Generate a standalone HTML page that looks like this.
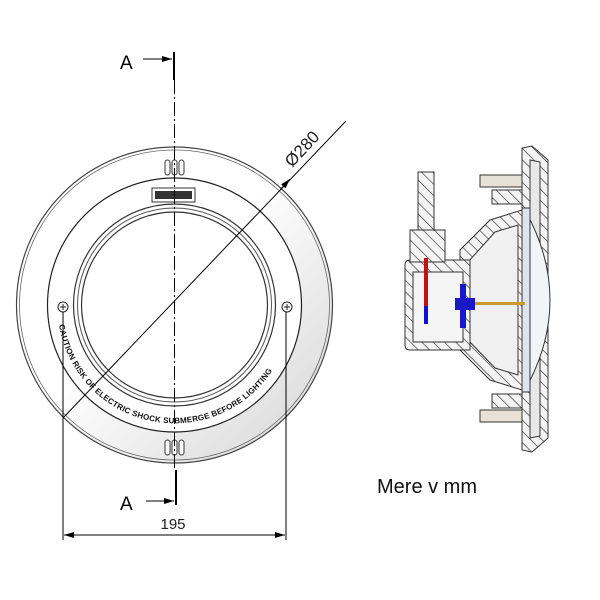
<!DOCTYPE html>
<html><head><meta charset="utf-8"><style>
html,body{margin:0;padding:0;background:#fff;width:600px;height:600px;overflow:hidden}
svg{display:block}
text{font-family:"Liberation Sans",sans-serif}
</style></head><body>
<svg width="600" height="600" viewBox="0 0 600 600" xmlns="http://www.w3.org/2000/svg">
<defs>
<linearGradient id="g" x1="0" y1="0" x2="1" y2="1">
<stop offset="0.45" stop-color="#fff"/><stop offset="1" stop-color="#d4d4d4"/>
</linearGradient>
<pattern id="h" width="8" height="8" patternUnits="userSpaceOnUse" patternTransform="rotate(-45)">
<rect width="8" height="8" fill="#f4f4f4"/><line x1="0" y1="0" x2="0" y2="8" stroke="#333" stroke-width="1.3"/>
</pattern>
<marker id="ar" markerWidth="10" markerHeight="6" refX="10" refY="3" orient="auto" markerUnits="userSpaceOnUse"><path d="M0,0L10,3L0,6z" fill="#000"/></marker>
</defs>
<circle cx="174.5" cy="305" r="158" fill="url(#g)" stroke="#444" stroke-width="1.2"/>
<circle cx="174.5" cy="305" r="155" fill="none" stroke="#666" stroke-width="0.8"/>
<circle cx="174.5" cy="305" r="127" fill="#fff" stroke="#222" stroke-width="1.2"/>
<circle cx="174.5" cy="305" r="101" fill="#fff" stroke="#333" stroke-width="1.2"/>
<circle cx="174.5" cy="305" r="97" fill="none" stroke="#555" stroke-width="1"/>
<circle cx="174.5" cy="305" r="93" fill="#fff" stroke="#333" stroke-width="1.2"/>
<g fill="#fff" stroke="#333" stroke-width="1">
<rect x="165" y="160" width="5" height="15" rx="2.5"/><rect x="172" y="160" width="5" height="15" rx="2.5"/><rect x="179" y="160" width="5" height="15" rx="2.5"/>
<rect x="165" y="440" width="5" height="15" rx="2.5"/><rect x="172" y="440" width="5" height="15" rx="2.5"/><rect x="179" y="440" width="5" height="15" rx="2.5"/>
</g>
<rect x="152" y="188" width="43" height="14" fill="#fff" stroke="#333"/>
<rect x="155" y="191" width="37" height="8" fill="#333"/>
<g stroke="#222" fill="#fff" stroke-width="1">
<circle cx="63" cy="307" r="5"/><path d="M60,307h6M63,304v6"/>
<circle cx="287" cy="307" r="5"/><path d="M284,307h6M287,304v6"/>
</g>
<path id="arc" d="M59,325 A117,117 0 0 0 290,325" fill="none"/>
<text font-size="8" font-weight="bold" letter-spacing="0.2" fill="#111"><textPath href="#arc" startOffset="0">CAUTION RISK OF ELECTRIC SHOCK SUBMERGE BEFORE LIGHTING</textPath></text>
<line x1="174" y1="52" x2="174" y2="80" stroke="#000" stroke-width="2"/>
<line x1="174.5" y1="80" x2="174.5" y2="470" stroke="#000" stroke-width="1" stroke-dasharray="14,3,2,3"/>
<line x1="176" y1="470" x2="176" y2="505" stroke="#000" stroke-width="2"/>
<line x1="143" y1="59" x2="172" y2="59" stroke="#000" marker-end="url(#ar)"/>
<text x="120" y="69" font-size="19">A</text>
<line x1="146" y1="501" x2="174" y2="501" stroke="#000" marker-end="url(#ar)"/>
<text x="120" y="510" font-size="19">A</text>
<line x1="63" y1="312" x2="63" y2="540" stroke="#000" stroke-width="1"/>
<line x1="286" y1="312" x2="286" y2="540" stroke="#000" stroke-width="1"/>
<line x1="75" y1="535" x2="274" y2="535" stroke="#000"/>
<line x1="75" y1="535" x2="64" y2="535" stroke="#000" marker-end="url(#ar)"/>
<line x1="274" y1="535" x2="285" y2="535" stroke="#000" marker-end="url(#ar)"/>
<text x="173" y="529" font-size="15" text-anchor="middle" fill="#222">195</text>
<line x1="63" y1="418" x2="346" y2="121" stroke="#000" stroke-width="1"/>
<line x1="280" y1="190" x2="290" y2="179" stroke="#000" marker-end="url(#ar)"/>
<text x="0" y="0" font-size="17" fill="#222" transform="translate(292,168) rotate(-47)">Ø280</text>
<g stroke="#333" stroke-width="1">
<path d="M522,148 L532,146 L548,160 L548,438 L532,452 L522,450 Z" fill="url(#h)"/>
<path d="M530,160 L540,162 L540,436 L530,438 Z" fill="#e8e8e8"/>
<path d="M525,210 Q575,300 525,390 Z" fill="#f2f4f8"/>
<rect x="522" y="208" width="8" height="184" fill="#dde3ef"/>
<path d="M460,250 L490,220 L522,210 L522,390 L490,380 L460,350 Z" fill="url(#h)"/>
<path d="M468,262 L495,232 L518,225 L518,375 L495,368 L468,340 Z" fill="#f0f0f0"/>
<path d="M410,260 L470,260 L470,350 L410,350 Q405,350 405,345 L405,265 Q405,260 410,260Z" fill="url(#h)"/>
<rect x="413" y="272" width="50" height="70" fill="#f5f5f5"/>
<rect x="418" y="172" width="16" height="88" fill="url(#h)"/>
<rect x="410" y="230" width="35" height="32" fill="url(#h)"/>
<rect x="480" y="175" width="42" height="12" fill="#e8e2d6"/>
<rect x="492" y="190" width="30" height="14" fill="url(#h)"/>
<rect x="480" y="410" width="42" height="12" fill="#e8e2d6"/>
<rect x="492" y="394" width="30" height="14" fill="url(#h)"/>
</g>
<rect x="424" y="258" width="4" height="48" fill="#c41010"/>
<rect x="424" y="306" width="4" height="18" fill="#1010d0"/>
<rect x="460" y="284" width="6" height="44" fill="#1818c8"/>
<rect x="455" y="298" width="20" height="12" fill="#1818c8"/>
<rect x="475" y="302" width="50" height="3" fill="#c89a30"/>
<text x="377" y="493" font-size="20" fill="#111">Mere v mm</text>
</svg>
</body></html>
